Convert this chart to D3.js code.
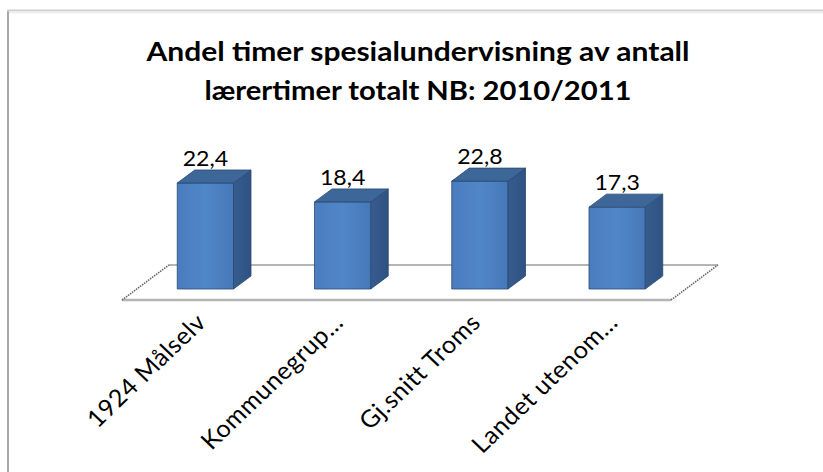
<!DOCTYPE html>
<html>
<head>
<meta charset="utf-8">
<script src="https://cdn.jsdelivr.net/npm/d3@7"></script>
<style>
  html, body { margin: 0; padding: 0; background: #ffffff; }
  svg { display: block; }
  text { font-family: Lato, "Open Sans", "DejaVu Sans", sans-serif; fill: #000; }
</style>
</head>
<body>
<svg id="chart" width="823" height="472"></svg>
<script>
// Chart data
const titleLines = ["Andel timer spesialundervisning av antall", "lærertimer totalt NB: 2010/2011"];
const categories = ["1924 Målselv", "Kommunegrup...", "Gj.snitt Troms", "Landet utenom..."];
const values = [22.4, 18.4, 22.8, 17.3];
const valueLabels = ["22,4", "18,4", "22,8", "17,3"];

const svg = d3.select("#chart");

// Gradients for the bar faces
const defs = svg.append("defs");
const gFront = defs.append("linearGradient").attr("id", "front").attr("x1", "0").attr("x2", "1").attr("y1", "0").attr("y2", "0");
gFront.append("stop").attr("offset", "0").attr("stop-color", "#4a7cbe");
gFront.append("stop").attr("offset", "0.5").attr("stop-color", "#5087c9");
gFront.append("stop").attr("offset", "1").attr("stop-color", "#4678b9");
const gSide = defs.append("linearGradient").attr("id", "side").attr("x1", "0").attr("x2", "1").attr("y1", "0").attr("y2", "0");
gSide.append("stop").attr("offset", "0").attr("stop-color", "#365c8d");
gSide.append("stop").attr("offset", "1").attr("stop-color", "#2f5283");

// Outer chart frame (left and top edges)
svg.append("line").attr("x1", 8).attr("y1", 10).attr("x2", 8).attr("y2", 472)
  .attr("stroke", "#a8a8a8").attr("stroke-width", 2);
svg.append("line").attr("x1", 7).attr("y1", 10.5).attr("x2", 823).attr("y2", 10.5)
  .attr("stroke", "#cfcfcf").attr("stroke-width", 2);
svg.append("line").attr("x1", 9).attr("y1", 12.5).attr("x2", 823).attr("y2", 12.5)
  .attr("stroke", "#f0f0f0").attr("stroke-width", 2);

// Title
const titleCx = 418;
const titleY = [61, 100];
const titleW = [543, 427];
svg.selectAll("text.title").data(titleLines).join("text")
  .attr("class", "title")
  .attr("x", titleCx).attr("y", (d, i) => titleY[i])
  .attr("text-anchor", "middle")
  .attr("font-size", 27).attr("font-weight", 700)
  .attr("textLength", (d, i) => titleW[i])
  .attr("lengthAdjust", "spacingAndGlyphs")
  .text(d => d);

// 3D floor geometry
const floorX = 122, floorY = 300, floorW = 549;
const depth = { dx: 47, dy: -35 };
const barDepth = [0.314, 0.686];

const x = d3.scaleBand().domain(categories).range([0, floorW])
  .paddingInner(0.59).paddingOuter(0.295);
const y = d3.scaleLinear().domain([0, 25]).range([0, 118.3]);

// project (horizontal position, depth fraction, value) onto the page
const proj = (px, dz, v) => [floorX + px + dz * depth.dx, floorY + dz * depth.dy - y(v)];

// Floor
const floorPts = [proj(0, 0, 0), proj(floorW, 0, 0), proj(floorW, 1, 0), proj(0, 1, 0)];
svg.append("polygon").attr("points", floorPts.map(p => p.join(",")).join(" "))
  .attr("fill", "#ffffff").attr("stroke", "none");
svg.append("line").attr("x1", floorPts[3][0]).attr("y1", floorPts[3][1])
  .attr("x2", floorPts[2][0]).attr("y2", floorPts[2][1])
  .attr("stroke", "#9d9d9d").attr("stroke-width", 1.6);
svg.append("line").attr("x1", floorPts[0][0]).attr("y1", floorPts[0][1])
  .attr("x2", floorPts[1][0]).attr("y2", floorPts[1][1])
  .attr("stroke", "#b5b5b5").attr("stroke-width", 2.4);
[[floorPts[0], floorPts[3]], [floorPts[1], floorPts[2]]].forEach(([a, b]) => {
  svg.append("line").attr("x1", a[0]).attr("y1", a[1]).attr("x2", b[0]).attr("y2", b[1])
    .attr("stroke", "#6a6a6a").attr("stroke-width", 1.6).attr("stroke-dasharray", "1.5,1");
});

// Bars
const bars = svg.append("g").selectAll("g").data(values).join("g");
const poly = pts => pts.map(p => p.join(",")).join(" ");
const edge = "#2b4a72";

bars.append("polygon") // front face
  .attr("points", (v, i) => {
    const x0 = x(categories[i]), x1 = x0 + x.bandwidth();
    return poly([proj(x0, barDepth[0], 0), proj(x1, barDepth[0], 0), proj(x1, barDepth[0], v), proj(x0, barDepth[0], v)]);
  })
  .attr("fill", "url(#front)").attr("stroke", edge).attr("stroke-width", 0.8);

bars.append("polygon") // side face
  .attr("points", (v, i) => {
    const x1 = x(categories[i]) + x.bandwidth();
    return poly([proj(x1, barDepth[0], 0), proj(x1, barDepth[1], 0), proj(x1, barDepth[1], v), proj(x1, barDepth[0], v)]);
  })
  .attr("fill", "url(#side)").attr("stroke", edge).attr("stroke-width", 0.8);

bars.append("polygon") // top face
  .attr("points", (v, i) => {
    const x0 = x(categories[i]), x1 = x0 + x.bandwidth();
    return poly([proj(x0, barDepth[0], v), proj(x1, barDepth[0], v), proj(x1, barDepth[1], v), proj(x0, barDepth[1], v)]);
  })
  .attr("fill", "#3d6699").attr("stroke", edge).attr("stroke-width", 0.8);

// Value labels above each bar
bars.append("text")
  .attr("transform", (v, i) => {
    const cx = x(categories[i]) + x.bandwidth() / 2;
    const p = proj(cx, barDepth[0], v);
    const top = proj(cx, barDepth[1], v);
    return `translate(${p[0]},${top[1] - 4}) scale(1.1,1)`;
  })
  .attr("text-anchor", "middle").attr("font-size", 21)
  .text((v, i) => valueLabels[i]);

// Category labels, rotated
svg.append("g").selectAll("text").data(categories).join("text")
  .attr("transform", d => {
    const cx = floorX + x(d) + x.bandwidth() / 2 + 17;
    return `translate(${cx},324) scale(1.05,1) rotate(-45)`;
  })
  .attr("text-anchor", "end").attr("font-size", 24).attr("letter-spacing", 0.5)
  .text(d => d);
</script>
</body>
</html>
